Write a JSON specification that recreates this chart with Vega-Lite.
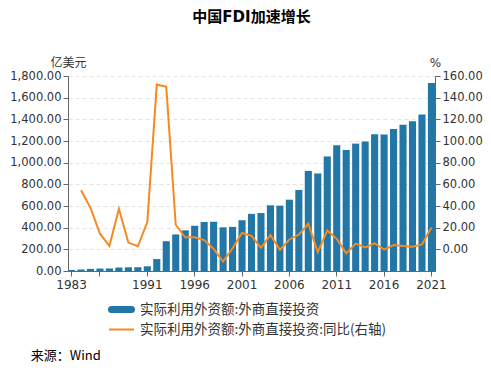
{
  "$schema": "https://vega.github.io/schema/vega-lite/v6.json",
  "background": "white",
  "padding": {"left": 9, "right": 5, "top": 10, "bottom": 5},
  "config": {
    "font": "DejaVu Sans, Noto Sans CJK SC, sans-serif",
    "view": {"stroke": null},
    "concat": {"spacing": 0}
  },
  "title": {
    "text": "来源：Wind",
    "orient": "bottom",
    "anchor": "start",
    "frame": "bounds",
    "fontSize": 13,
    "fontWeight": "normal",
    "color": "#000000",
    "font": "Noto Sans CJK SC, DejaVu Sans, sans-serif",
    "dx": 21,
    "offset": 14
  },
  "vconcat": [
    {
      "title": {
        "text": "中国FDI加速增长",
        "anchor": "middle",
        "frame": "group",
        "fontSize": 15,
        "fontWeight": "bold",
        "color": "#000000",
        "dx": 0,
        "offset": 31
      },
      "width": 367,
      "height": 195,
      "data": {
        "values": [
          {"year": 1983, "fdi": 9.16, "yoy": null},
          {"year": 1984, "fdi": 14.19, "yoy": 54.6},
          {"year": 1985, "fdi": 19.56, "yoy": 38.3},
          {"year": 1986, "fdi": 22.44, "yoy": 14.4},
          {"year": 1987, "fdi": 23.14, "yoy": 3.1},
          {"year": 1988, "fdi": 31.94, "yoy": 37.4},
          {"year": 1989, "fdi": 33.92, "yoy": 6.2},
          {"year": 1990, "fdi": 34.87, "yoy": 2.8},
          {"year": 1991, "fdi": 43.66, "yoy": 25.2},
          {"year": 1992, "fdi": 110.07, "yoy": 152.1},
          {"year": 1993, "fdi": 275.15, "yoy": 150.0},
          {"year": 1994, "fdi": 337.67, "yoy": 22.7},
          {"year": 1995, "fdi": 375.21, "yoy": 11.1},
          {"year": 1996, "fdi": 417.26, "yoy": 11.2},
          {"year": 1997, "fdi": 452.57, "yoy": 8.5},
          {"year": 1998, "fdi": 454.63, "yoy": 0.5},
          {"year": 1999, "fdi": 403.19, "yoy": -11.3},
          {"year": 2000, "fdi": 407.15, "yoy": 1.0},
          {"year": 2001, "fdi": 468.78, "yoy": 15.1},
          {"year": 2002, "fdi": 527.43, "yoy": 12.5},
          {"year": 2003, "fdi": 535.05, "yoy": 1.4},
          {"year": 2004, "fdi": 606.3, "yoy": 13.3},
          {"year": 2005, "fdi": 603.25, "yoy": -0.5},
          {"year": 2006, "fdi": 658.21, "yoy": 9.1},
          {"year": 2007, "fdi": 747.68, "yoy": 13.6},
          {"year": 2008, "fdi": 923.95, "yoy": 23.6},
          {"year": 2009, "fdi": 900.33, "yoy": -2.6},
          {"year": 2010, "fdi": 1057.35, "yoy": 17.4},
          {"year": 2011, "fdi": 1160.11, "yoy": 9.7},
          {"year": 2012, "fdi": 1117.16, "yoy": -3.7},
          {"year": 2013, "fdi": 1175.86, "yoy": 5.3},
          {"year": 2014, "fdi": 1195.62, "yoy": 1.7},
          {"year": 2015, "fdi": 1262.67, "yoy": 5.6},
          {"year": 2016, "fdi": 1260.01, "yoy": -0.2},
          {"year": 2017, "fdi": 1310.35, "yoy": 4.0},
          {"year": 2018, "fdi": 1349.66, "yoy": 3.0},
          {"year": 2019, "fdi": 1381.35, "yoy": 2.3},
          {"year": 2020, "fdi": 1443.69, "yoy": 4.5},
          {"year": 2021, "fdi": 1734.83, "yoy": 20.2}
        ]
      },
      "encoding": {
        "x": {
          "field": "year",
          "type": "ordinal",
          "scale": {"paddingInner": 0.25, "paddingOuter": 0},
          "axis": {
            "title": null,
            "values": [1983, 1986, 1991, 1996, 2001, 2006, 2011, 2016, 2021],
            "labelExpr": "datum.value == 1986 ? '' : datum.label",
            "labelAngle": 0,
            "labelFontSize": 12,
            "labelColor": "#333333",
            "labelPadding": 3,
            "tickSize": 5,
            "tickColor": "#666666",
            "domainColor": "#666666",
            "grid": false
          }
        }
      },
      "layer": [
        {
          "mark": {"type": "bar", "color": "#2277a6"},
          "encoding": {
            "y": {
              "field": "fdi",
              "type": "quantitative",
              "scale": {"domain": [0, 1800], "nice": false},
              "axis": {
                "orient": "left",
                "title": "亿美元",
                "titleAngle": 0,
                "titleX": 0,
                "titleY": -14,
                "titleAlign": "center",
                "titleBaseline": "middle",
                "titleFontSize": 12,
                "titleFontWeight": "normal",
                "titleColor": "#333333",
                "titleFont": "Noto Sans CJK SC, sans-serif",
                "values": [0, 200, 400, 600, 800, 1000, 1200, 1400, 1600, 1800],
                "format": ",.2f",
                "labelFontSize": 11.5,
                "labelColor": "#333333",
                "tickSize": 5,
                "tickColor": "#666666",
                "domainColor": "#666666",
                "grid": true,
                "gridColor": "#e3e3e3",
                "gridDash": [4, 3]
              }
            },
            "color": {
              "datum": "实际利用外资额:外商直接投资",
              "type": "nominal",
              "scale": {
                "domain": ["实际利用外资额:外商直接投资", "实际利用外资额:外商直接投资:同比(右轴)"],
                "range": ["#2277a6", "#f7891f"]
              },
              "legend": {
                "title": null,
                "orient": "none",
                "legendX": 40,
                "legendY": 220,
                "direction": "vertical",
                "padding": 0,
                "rowPadding": -5,
                "symbolSize": 625,
                "labelFontSize": 13.5,
                "labelColor": "#333333",
                "labelFont": "Noto Sans CJK SC, sans-serif",
                "labelLimit": 0,
                "labelOffset": 5,
                "encode": {
                  "symbols": {
                    "update": {
                      "shape": {"signal": "datum.index == 0 ? 'M-0.8,-0.2H0.8A0.2,0.2 0 0 1 0.8,0.2H-0.8A0.2,0.2 0 0 1 -0.8,-0.2Z' : 'stroke'"},
                      "fill": {"signal": "datum.index == 0 ? '#2277a6' : 'transparent'"},
                      "stroke": {"signal": "datum.index == 0 ? 'transparent' : '#f7891f'"},
                      "strokeWidth": {"value": 2},
                      "opacity": {"value": 1},
                      "fillOpacity": {"value": 1}
                    }
                  }
                }
              }
            }
          }
        },
        {
          "mark": {"type": "line", "strokeWidth": 2, "color": "#f7891f"},
          "encoding": {
            "y": {
              "field": "yoy",
              "type": "quantitative",
              "scale": {"domain": [-20, 160], "nice": false},
              "axis": {
                "orient": "right",
                "title": "%",
                "titleAngle": 0,
                "titleX": 0,
                "titleY": -14,
                "titleAlign": "center",
                "titleBaseline": "middle",
                "titleFontSize": 12,
                "titleFontWeight": "normal",
                "titleColor": "#333333",
                "values": [0, 20, 40, 60, 80, 100, 120, 140, 160],
                "format": ".2f",
                "labelFontSize": 11.5,
                "labelColor": "#333333",
                "tickSize": 5,
                "tickColor": "#666666",
                "domainColor": "#666666",
                "grid": false
              }
            },
            "color": {
              "datum": "实际利用外资额:外商直接投资:同比(右轴)",
              "type": "nominal"
            }
          }
        }
      ],
      "resolve": {"scale": {"y": "independent"}}
    }
  ]
}
